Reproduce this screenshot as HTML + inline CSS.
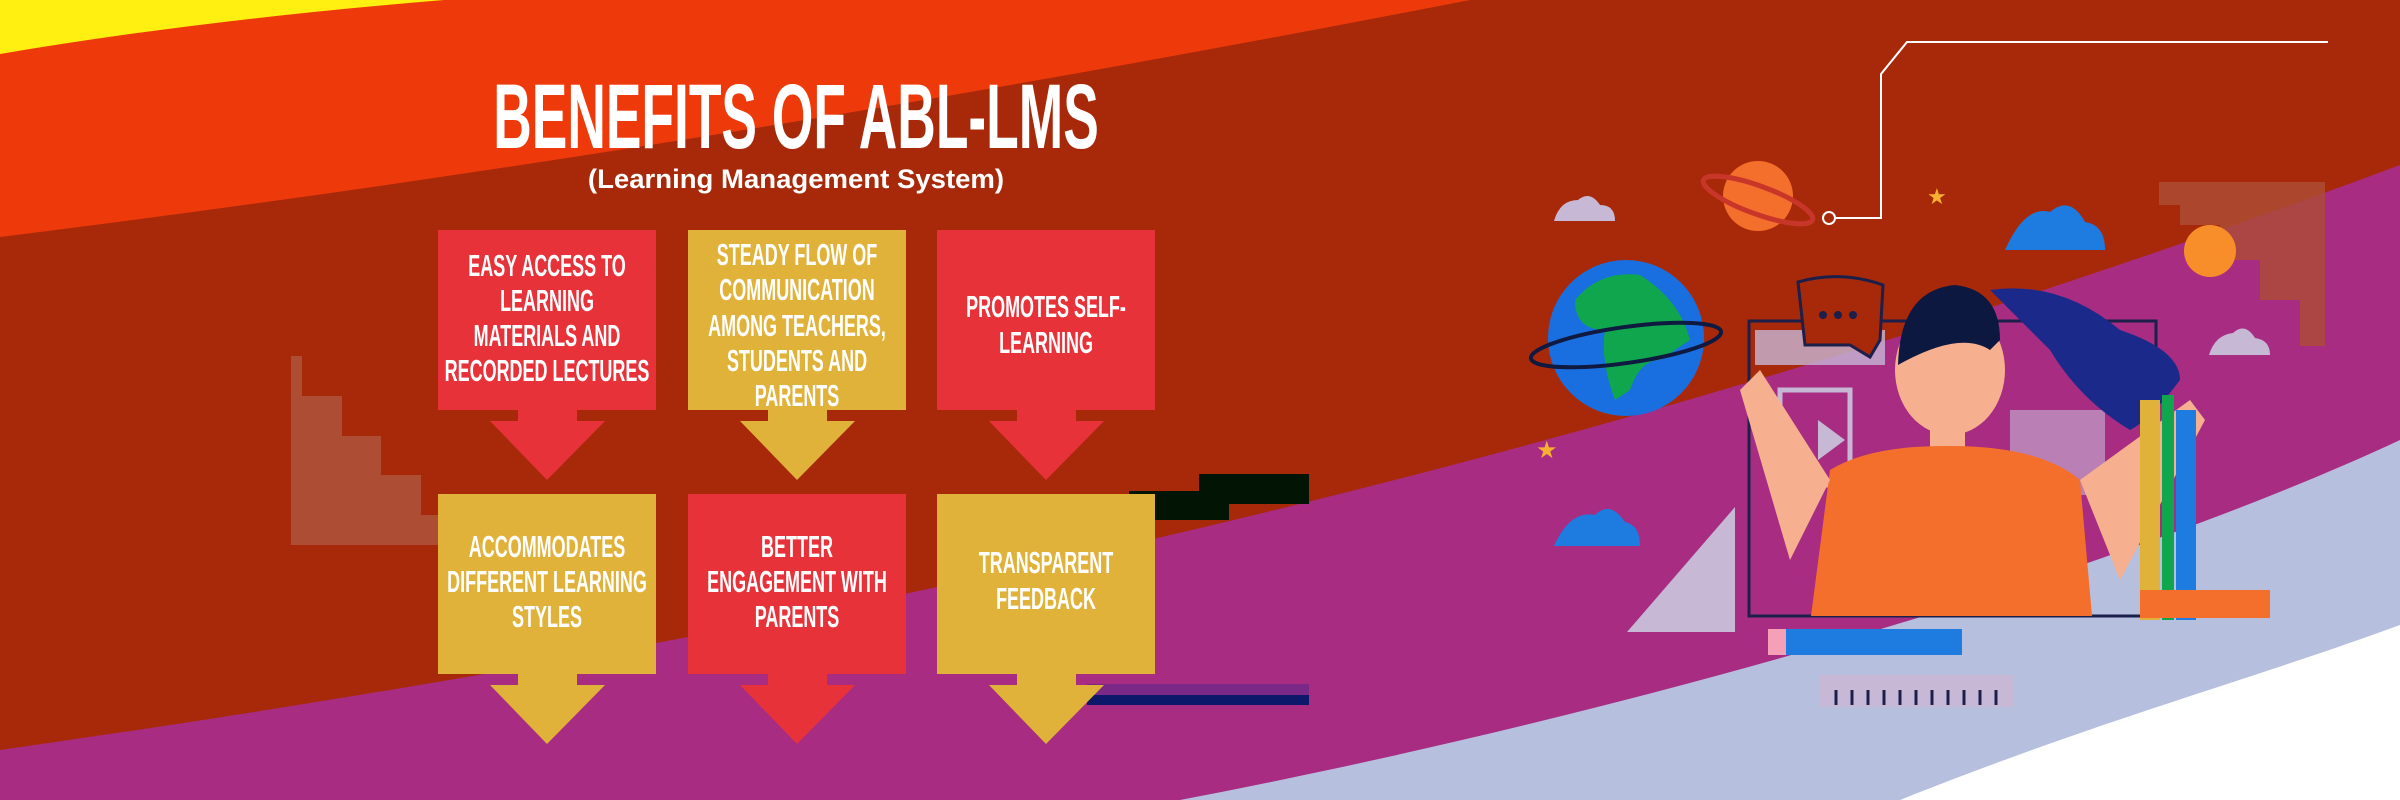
<!DOCTYPE html>
<html><head><meta charset="utf-8"><style>
html,body{margin:0;padding:0;width:2400px;height:800px;overflow:hidden;background:#A8290A}
svg{display:block}
.t{font-family:"Liberation Sans",sans-serif;font-weight:bold;fill:#fff;text-anchor:middle}
</style></head><body>
<svg width="2400" height="800" viewBox="0 0 2400 800" xmlns="http://www.w3.org/2000/svg">
<rect width="2400" height="800" fill="#A8290A"/>
<path d="M0,0 L1470,0 Q700,150 0,237 Z" fill="#EE3A0A"/>
<path d="M0,0 L444,0 Q200,20 0,54 Z" fill="#FFF012"/>
<path d="M0,750 C700,650 1500,500 2400,165 L2400,800 L0,800 Z" fill="#A72C82"/>
<path d="M1180,800 C1600,720 2100,580 2400,440 L2400,800 Z" fill="#B7BFDF"/>
<path d="M1900,800 C2100,720 2250,680 2400,625 L2400,800 Z" fill="#FFFFFF"/>
<path d="M291,356 L302,356 L302,396 L342,396 L342,436 L381,436 L381,475 L421,475 L421,515 L440,515 L440,545 L291,545 Z" fill="#AD4E34"/>
<path d="M2159,182 L2325,182 L2325,346 L2300,346 L2300,300 L2260,300 L2260,260 L2220,260 L2220,225 L2180,225 L2180,205 L2159,205 Z" fill="#AD4E34" opacity="0.8"/>
<rect x="1199" y="474" width="110" height="30" fill="#021504"/>
<rect x="1129" y="491" width="100" height="29" fill="#021504"/>
<rect x="1087" y="684" width="222" height="11" fill="#7A2A86"/>
<rect x="1087" y="695" width="222" height="10" fill="#0E186A"/>
<g transform="translate(796,148) scale(0.58,1)"><text class="t" x="0" y="0" font-size="92">BENEFITS OF ABL-LMS</text></g>
<g transform="translate(796,188) scale(1.02,1)"><text class="t" x="0" y="0" font-size="27">(Learning Management System)</text></g>
<g>
<rect x="438" y="230" width="218" height="180" fill="#E8323A"/>
<path d="M518,409 L577,409 L577,421 L605,421 L547,480 L490,421 L518,421 Z" fill="#E8323A"/>
<rect x="688" y="230" width="218" height="180" fill="#E1B23A"/>
<path d="M768,409 L827,409 L827,421 L855,421 L797,480 L740,421 L768,421 Z" fill="#E1B23A"/>
<rect x="937" y="230" width="218" height="180" fill="#E8323A"/>
<path d="M1017,409 L1076,409 L1076,421 L1104,421 L1046,480 L989,421 L1017,421 Z" fill="#E8323A"/>
<rect x="438" y="494" width="218" height="180" fill="#E1B23A"/>
<path d="M518,673 L577,673 L577,685 L605,685 L547,744 L490,685 L518,685 Z" fill="#E1B23A"/>
<rect x="688" y="494" width="218" height="180" fill="#E8323A"/>
<path d="M768,673 L827,673 L827,685 L855,685 L797,744 L740,685 L768,685 Z" fill="#E8323A"/>
<rect x="937" y="494" width="218" height="180" fill="#E1B23A"/>
<path d="M1017,673 L1076,673 L1076,685 L1104,685 L1046,744 L989,685 L1017,685 Z" fill="#E1B23A"/>
</g>
<g font-size="31">
<g transform="translate(547,0) scale(0.58,1)"><text class="t" x="0" y="276">EASY ACCESS TO</text><text class="t" x="0" y="311">LEARNING</text><text class="t" x="0" y="346">MATERIALS AND</text><text class="t" x="0" y="381">RECORDED LECTURES</text></g>
<g transform="translate(797,0) scale(0.58,1)"><text class="t" x="0" y="265">STEADY FLOW OF</text><text class="t" x="0" y="300">COMMUNICATION</text><text class="t" x="0" y="336">AMONG TEACHERS,</text><text class="t" x="0" y="371">STUDENTS AND</text><text class="t" x="0" y="406">PARENTS</text></g>
<g transform="translate(1046,0) scale(0.58,1)"><text class="t" x="0" y="317">PROMOTES SELF-</text><text class="t" x="0" y="353">LEARNING</text></g>
<g transform="translate(547,0) scale(0.58,1)"><text class="t" x="0" y="557">ACCOMMODATES</text><text class="t" x="0" y="592">DIFFERENT LEARNING</text><text class="t" x="0" y="627">STYLES</text></g>
<g transform="translate(797,0) scale(0.58,1)"><text class="t" x="0" y="557">BETTER</text><text class="t" x="0" y="592">ENGAGEMENT WITH</text><text class="t" x="0" y="627">PARENTS</text></g>
<g transform="translate(1046,0) scale(0.58,1)"><text class="t" x="0" y="573">TRANSPARENT</text><text class="t" x="0" y="609">FEEDBACK</text></g>
</g>
<path d="M2328,42 L1907,42 L1881,74 L1881,218 L1836,218" fill="none" stroke="#fff" stroke-width="2"/>
<circle cx="1829" cy="218" r="6" fill="none" stroke="#fff" stroke-width="2"/>
<g>
<path d="M1554,221 L1615,221 Q1615,205 1600,205 Q1590,190 1578,200 Q1560,200 1554,221Z" fill="#C7B8D6"/>
<path d="M2209,355 L2270,355 Q2270,340 2255,338 Q2245,322 2233,333 Q2215,335 2209,355Z" fill="#C7B8D6"/>
<path d="M2005,250 L2105,250 Q2105,225 2085,222 Q2070,195 2050,212 Q2025,205 2005,250Z" fill="#1E7BE0"/>
<path d="M1554,546 L1640,546 Q1640,525 1625,522 Q1610,500 1595,515 Q1570,510 1554,546Z" fill="#1E7BE0"/>
<circle cx="1758" cy="196" r="35" fill="#F46E2C"/>
<ellipse cx="1758" cy="200" rx="58" ry="14" fill="none" stroke="#C8362A" stroke-width="5" transform="rotate(20 1758 200)"/>
<circle cx="2210" cy="251" r="26" fill="#F78E2A"/>
<ellipse cx="1626" cy="338" rx="78" ry="78" fill="#1A6FE0"/>
<path d="M1575,300 Q1600,270 1640,275 Q1680,300 1690,340 L1660,360 Q1640,360 1630,390 L1615,400 Q1600,360 1605,330 Q1575,330 1575,300Z" fill="#0FA64E"/>
<ellipse cx="1626" cy="345" rx="96" ry="18" fill="none" stroke="#10193F" stroke-width="4" transform="rotate(-8 1626 345)"/>
<path d="M1627,632 L1735,632 L1735,507 Z" fill="#C7B8D6"/>
<rect x="1749" y="321" width="407" height="295" fill="none" stroke="#1B1F4A" stroke-width="3"/>
<rect x="1755" y="330" width="130" height="35" fill="#C7B8D6" opacity="0.8"/>
<rect x="1780" y="390" width="70" height="95" fill="none" stroke="#C7B8D6" stroke-width="5"/>
<path d="M1818,420 L1845,440 L1818,460 Z" fill="#C7B8D6"/>
<rect x="2010" y="410" width="95" height="85" fill="#C7B8D6" opacity="0.6"/>
<path d="M1798,282 Q1840,270 1883,285 L1880,340 L1870,357 L1850,345 L1805,345 Z" fill="#A8290A" stroke="#1B1F4A" stroke-width="3"/>
<circle cx="1823" cy="315" r="4" fill="#1B1F4A"/><circle cx="1838" cy="315" r="4" fill="#1B1F4A"/><circle cx="1853" cy="315" r="4" fill="#1B1F4A"/>
<path d="M1990,290 Q2060,280 2120,330 Q2180,350 2180,380 Q2150,420 2130,430 Q2080,400 2050,350 Z" fill="#1B2A8A"/>
<ellipse cx="1950" cy="370" rx="55" ry="65" fill="#F7B08F"/>
<path d="M1898,365 Q1900,290 1955,285 Q2000,290 2000,340 L1990,350 Q1960,330 1898,365Z" fill="#0D1840"/>
<rect x="1930" y="420" width="35" height="35" fill="#F7B08F"/>
<path d="M1811,616 L1830,470 Q1870,445 1950,446 Q2040,446 2080,480 L2092,616 Z" fill="#F46E2C"/>
<path d="M1830,480 L1760,370 L1740,390 L1790,560 Z" fill="#F7B08F"/>
<path d="M2080,480 L2190,400 L2205,420 L2120,580 Z" fill="#F7B08F"/>
<rect x="2140" y="400" width="20" height="220" fill="#E1B23A"/>
<rect x="2162" y="395" width="12" height="225" fill="#0FA64E"/>
<rect x="2176" y="410" width="20" height="210" fill="#1E7BE0"/>
<rect x="2140" y="590" width="130" height="28" fill="#F46E2C"/>
<rect x="1768" y="629" width="194" height="26" fill="#1E7BE0"/>
<rect x="1768" y="629" width="18" height="26" fill="#F6A0B8"/>
<rect x="1819" y="675" width="194" height="32" fill="#C7B8D6"/>
<g stroke="#1B1F4A" stroke-width="3"><line x1="1836" y1="690" x2="1836" y2="705"/><line x1="1852" y1="690" x2="1852" y2="705"/><line x1="1868" y1="690" x2="1868" y2="705"/><line x1="1884" y1="690" x2="1884" y2="705"/><line x1="1900" y1="690" x2="1900" y2="705"/><line x1="1916" y1="690" x2="1916" y2="705"/><line x1="1932" y1="690" x2="1932" y2="705"/><line x1="1948" y1="690" x2="1948" y2="705"/><line x1="1964" y1="690" x2="1964" y2="705"/><line x1="1980" y1="690" x2="1980" y2="705"/><line x1="1996" y1="690" x2="1996" y2="705"/></g>
<text x="1927" y="204" font-size="22" fill="#F7B030">★</text>
<text x="1536" y="458" font-size="24" fill="#F7B030">★</text>
</g>
</svg>
</body></html>
